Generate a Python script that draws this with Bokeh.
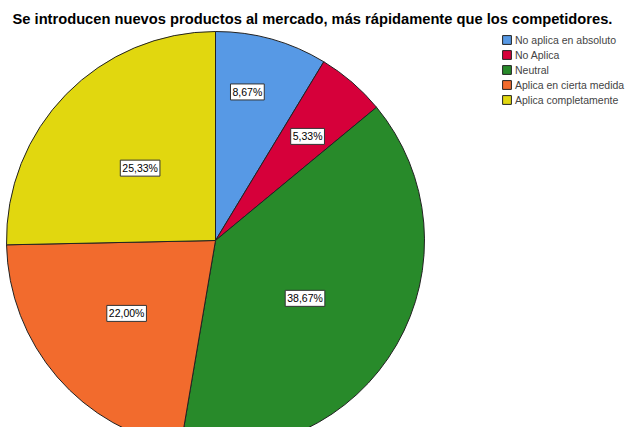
import math
from bokeh.plotting import figure
from bokeh.models import ColumnDataSource, Range1d, Legend, LegendItem, Label
from bokeh.core.properties import value
from bokeh.embed import file_html
from bokeh.resources import INLINE

title_text = "Se introducen nuevos productos al mercado, más rápidamente que los competidores."
categories = ["No aplica en absoluto", "No Aplica", "Neutral", "Aplica en cierta medida", "Aplica completamente"]
percents = [8.67, 5.33, 38.67, 22.00, 25.33]
pct_labels = ["8,67%", "5,33%", "38,67%", "22,00%", "25,33%"]
colors = ["#5799E5", "#D6003A", "#288A2A", "#F26B2D", "#E1D70F"]

W, H = 627, 427
cx, cy, R = 215, H - 240, 209
label_rfrac = [0.727, 0.665, 0.51, 0.55, 0.50]
label_ashift = [0.061, -0.012, -0.05, -0.025, 0.01]

total = sum(percents)
starts, ends, lx, ly = [], [], [], []
cum = 0.0
for i, v in enumerate(percents):
    a0 = math.pi / 2 - 2 * math.pi * cum / total
    cum += v
    a1 = math.pi / 2 - 2 * math.pi * cum / total
    starts.append(a0)
    ends.append(a1)
    mid = (a0 + a1) / 2 + label_ashift[i]
    lx.append(cx + R * label_rfrac[i] * math.cos(mid))
    ly.append(cy + R * label_rfrac[i] * math.sin(mid))

src = ColumnDataSource(dict(x=[cx] * 5, y=[cy] * 5, start=starts, end=ends,
                            color=colors, cat=categories, lx=lx, ly=ly, lab=pct_labels))

p = figure(width=W, height=H, output_backend="svg", toolbar_location=None,
           x_range=Range1d(0, W), y_range=Range1d(0, H), min_border=0,
           outline_line_color=None)
p.axis.visible = False
p.grid.visible = False

r = p.wedge(x="x", y="y", radius=R, start_angle="start", end_angle="end",
            direction="clock", fill_color="color", line_color="#222222",
            line_width=1, source=src)

p.text(x="lx", y="ly", text="lab", source=src, text_align="center",
       text_baseline="middle", text_font=value("Liberation Sans"),
       text_font_size="10.5px", text_color="black",
       background_fill_color="white", border_line_color="#333333",
       border_line_width=1, padding=2)

p.add_layout(Label(x=12, y=H - 18, text=title_text, text_font="Liberation Sans",
                   text_font_size="14.7px", text_font_style="bold",
                   text_baseline="middle", text_align="left", text_color="black"))

items = [LegendItem(label=c, renderers=[r], index=i) for i, c in enumerate(categories)]
legend = Legend(items=items, location=(501, 320), glyph_width=11, glyph_height=11,
                label_height=15, label_standoff=3, spacing=0, padding=0, margin=0,
                label_text_font="Liberation Sans", label_text_font_size="10.5px",
                border_line_color=None, background_fill_alpha=0)
p.add_layout(legend, "center")

open("out.html", "w").write(file_html(p, INLINE))
